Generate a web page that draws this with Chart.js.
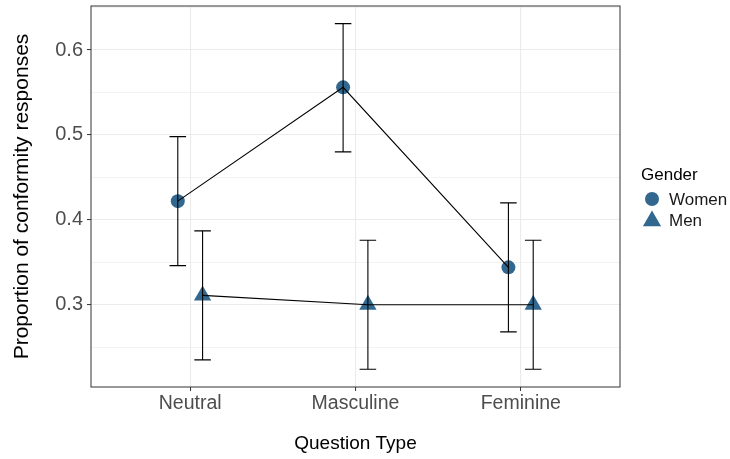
<!DOCTYPE html>
<html>
<head>
<meta charset="utf-8">
<title>Conformity responses by question type</title>
<script src="https://cdn.jsdelivr.net/npm/chart.js@4.4.1/dist/chart.umd.min.js"></script>
<style>
    body { margin: 0; background: #ffffff; }
    #chartBox { width: 730px; height: 459px; }
</style>
</head>
<body>
<div id="chartBox"><canvas id="myChart" width="730" height="459"></canvas></div>
<script>
// #region data
const categories = ['Neutral', 'Masculine', 'Feminine'];

const womenMean = [0.422, 0.556, 0.344];
const womenLow = [0.346, 0.480, 0.268];
const womenHigh = [0.498, 0.631, 0.420];

const menMean = [0.311, 0.300, 0.300];
const menLow = [0.235, 0.224, 0.224];
const menHigh = [0.387, 0.376, 0.376];

const yTicks = [0.3, 0.4, 0.5, 0.6];
const yMinorTicks = [0.25, 0.35, 0.45, 0.55, 0.65];
// #endregion data

const
    blue = '#32688f',
    fontFamily = '"Liberation Sans", Arial, Helvetica, sans-serif',
    dodge = 0.075,
    capHalf = 0.05;

const series = [
    { label: 'Women', mean: womenMean, low: womenLow, high: womenHigh, shift: -dodge, style: 'circle', radius: 7 },
    { label: 'Men', mean: menMean, low: menLow, high: menHigh, shift: dodge, style: 'triangle', radius: 10 }
];

function points(s) {
    return s.mean.map((v, i) => ({ x: i + 1 + s.shift, y: v }));
}

// lines first in the list so they end up painted over the markers
const datasets = [];
series.forEach(s => {
    datasets.push({
        label: s.label + ' line',
        data: points(s),
        showLine: true,
        borderColor: '#000000',
        borderWidth: 1.1,
        pointRadius: 0,
        order: 0
    });
});
series.forEach(s => {
    datasets.push({
        label: s.label,
        data: points(s),
        showLine: false,
        pointStyle: s.style,
        pointRadius: s.radius,
        pointBackgroundColor: blue,
        pointBorderWidth: 0,
        order: 1
    });
});

// error bars, panel border and the legend on the right
const extras = {
    id: 'extras',
    afterDatasetsDraw(chart) {
        const { ctx, chartArea, scales: { x, y } } = chart;
        ctx.save();
        ctx.strokeStyle = '#000000';
        ctx.lineWidth = 1.1;
        series.forEach(s => {
            s.mean.forEach((v, i) => {
                const pos = i + 1 + s.shift;
                const px = x.getPixelForValue(pos),
                    left = x.getPixelForValue(pos - capHalf),
                    right = x.getPixelForValue(pos + capHalf),
                    top = y.getPixelForValue(s.high[i]),
                    bottom = y.getPixelForValue(s.low[i]);
                ctx.beginPath();
                ctx.moveTo(px, top);
                ctx.lineTo(px, bottom);
                ctx.moveTo(left, top);
                ctx.lineTo(right, top);
                ctx.moveTo(left, bottom);
                ctx.lineTo(right, bottom);
                ctx.stroke();
            });
        });

        ctx.strokeStyle = '#333333';
        ctx.lineWidth = 1;
        ctx.strokeRect(chartArea.left, chartArea.top,
            chartArea.right - chartArea.left, chartArea.bottom - chartArea.top);

        // legend
        const lx = 641;
        ctx.fillStyle = '#000000';
        ctx.font = '17px ' + fontFamily;
        ctx.textBaseline = 'alphabetic';
        ctx.textAlign = 'left';
        ctx.fillText('Gender', lx, 179.5);
        const rows = [199, 220];
        series.forEach((s, i) => {
            ctx.fillStyle = blue;
            Chart.helpers.drawPoint(ctx, {
                pointStyle: s.style,
                radius: s.style === 'circle' ? 7 : 10.5,
                rotation: 0,
                borderWidth: 0
            }, 652, rows[i] + (s.style === 'triangle' ? 1 : 0));
            ctx.fillStyle = '#1a1a1a';
            ctx.textBaseline = 'middle';
            ctx.fillText(s.label, 669, rows[i] + 1);
        });
        ctx.restore();
    }
};

function isMajor(v) {
    return yTicks.some(t => Math.abs(t - v) < 1e-6);
}

function noOverhang(scale) {
    scale.paddingTop = 0;
    scale.paddingBottom = 0;
    scale.paddingLeft = 0;
    scale.paddingRight = 0;
}

new Chart(document.getElementById('myChart'), {
    type: 'scatter',
    data: { datasets: datasets },
    options: {
        responsive: false,
        animation: false,
        devicePixelRatio: 1,
        layout: {
            autoPadding: false,
            padding: { left: 0, top: 6, right: 110, bottom: 0 }
        },
        plugins: {
            legend: { display: false },
            tooltip: { enabled: false }
        },
        scales: {
            x: {
                type: 'linear',
                min: 0.4,
                max: 3.6,
                afterBuildTicks: (scale) => {
                    scale.ticks = categories.map((c, i) => ({ value: i + 1 }));
                },
                afterFit: (scale) => { scale.height = 72; noOverhang(scale); },
                border: { display: false },
                grid: {
                    color: '#ebebeb',
                    lineWidth: 1.1,
                    drawTicks: true,
                    tickLength: 4,
                    tickColor: '#333333',
                    tickWidth: 1
                },
                ticks: {
                    color: '#4d4d4d',
                    padding: 1,
                    maxRotation: 0,
                    font: { family: fontFamily, size: 19.5 },
                    callback: (v) => categories[Math.round(v) - 1]
                },
                title: {
                    display: true,
                    text: 'Question Type',
                    color: '#000000',
                    padding: { top: 0, bottom: 4 },
                    font: { family: fontFamily, size: 19 }
                }
            },
            y: {
                type: 'linear',
                min: 0.2031,
                max: 0.6518,
                afterBuildTicks: (scale) => {
                    scale.ticks = yMinorTicks.concat(yTicks)
                        .sort((a, b) => a - b)
                        .map(v => ({ value: v }));
                },
                afterFit: (scale) => { scale.width = 91; noOverhang(scale); },
                border: { display: false },
                grid: {
                    color: '#ebebeb',
                    lineWidth: (c) => (isMajor(c.tick.value) ? 1.1 : 0.6),
                    drawTicks: true,
                    tickLength: 4,
                    tickColor: (c) => (isMajor(c.tick.value) ? '#333333' : 'rgba(0,0,0,0)'),
                    tickWidth: 1
                },
                ticks: {
                    color: '#4d4d4d',
                    padding: 4,
                    font: { family: fontFamily, size: 20 },
                    callback: (v) => (isMajor(v) ? v.toFixed(1) : '')
                },
                title: {
                    display: true,
                    text: 'Proportion of conformity responses',
                    color: '#000000',
                    padding: { top: 10, bottom: 0 },
                    font: { family: fontFamily, size: 21 }
                }
            }
        }
    },
    plugins: [extras]
});
</script>
</body>
</html>
